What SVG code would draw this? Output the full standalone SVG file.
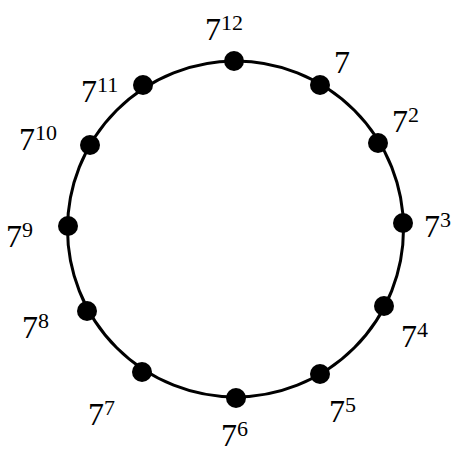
<svg xmlns="http://www.w3.org/2000/svg" width="453" height="450" viewBox="0 0 453 450">
<style>
.ring{fill:none;stroke:#000;stroke-width:3}
.dot{fill:#000}
text{font-family:"Liberation Serif","Times New Roman",serif;font-size:32px;fill:#000}
.sup{font-size:22px}
</style>
<rect width="453" height="450" fill="#fff"/>
<g id="connectors">
<circle class="ring" cx="235.5" cy="229" r="168"/>
</g>
<g id="n12"><circle class="dot" cx="234" cy="61" r="10"/><text x="205" y="40">7<tspan class="sup" dy="-10">12</tspan></text></g>
<g id="n1"><circle class="dot" cx="320" cy="85" r="10"/><text x="334" y="73">7</text></g>
<g id="n2"><circle class="dot" cx="378" cy="143" r="10"/><text x="392" y="132">7<tspan class="sup" dy="-10">2</tspan></text></g>
<g id="n3"><circle class="dot" cx="403" cy="223" r="10"/><text x="424" y="237">7<tspan class="sup" dy="-10">3</tspan></text></g>
<g id="n4"><circle class="dot" cx="384" cy="306" r="10"/><text x="401" y="347">7<tspan class="sup" dy="-10">4</tspan></text></g>
<g id="n5"><circle class="dot" cx="320" cy="374" r="10"/><text x="329" y="422">7<tspan class="sup" dy="-10">5</tspan></text></g>
<g id="n6"><circle class="dot" cx="236" cy="398" r="10"/><text x="221" y="446">7<tspan class="sup" dy="-10">6</tspan></text></g>
<g id="n7"><circle class="dot" cx="142" cy="372" r="10"/><text x="88" y="425">7<tspan class="sup" dy="-10">7</tspan></text></g>
<g id="n8"><circle class="dot" cx="87" cy="311" r="10"/><text x="22" y="338">7<tspan class="sup" dy="-10">8</tspan></text></g>
<g id="n9"><circle class="dot" cx="68" cy="226" r="10"/><text x="6" y="247">7<tspan class="sup" dy="-10">9</tspan></text></g>
<g id="n10"><circle class="dot" cx="90" cy="145" r="10"/><text x="19" y="150">7<tspan class="sup" dy="-10">10</tspan></text></g>
<g id="n11"><circle class="dot" cx="143" cy="85" r="10"/><text x="81" y="102">7<tspan class="sup" dy="-10">11</tspan></text></g>
</svg>
